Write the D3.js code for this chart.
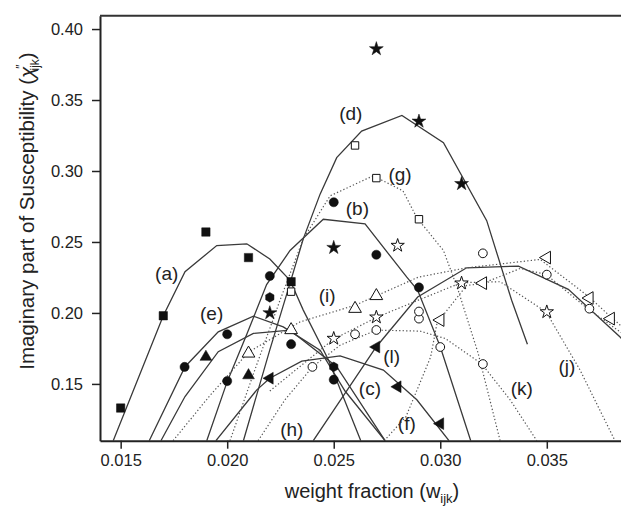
<!DOCTYPE html>
<html>
<head>
<meta charset="utf-8">
<script src="https://cdn.jsdelivr.net/npm/d3@7"></script>
<style>
  body { margin: 0; background: #fff; }
  text { font-family: "Liberation Sans", Arial, sans-serif; fill: #222; }
</style>
</head>
<body>
<div id="chart"></div>
<script>
// axis ticks
var xTicks = [0.015, 0.020, 0.025, 0.030, 0.035];
var yTicks = [0.15, 0.20, 0.25, 0.30, 0.35, 0.40];

// fitted curves (weight fraction, chi'')
var curveA = [[0.01465, 0.110], [0.0170, 0.198], [0.01802, 0.229], [0.01951, 0.2475], [0.02092, 0.2487], [0.0220, 0.238], [0.02295, 0.223], [0.02357, 0.202], [0.02475, 0.167], [0.02627, 0.110]];
var curveB = [[0.01904, 0.110], [0.0200, 0.1516], [0.02092, 0.185], [0.02185, 0.220], [0.02295, 0.244], [0.02451, 0.266], [0.02647, 0.2627], [0.02843, 0.2252], [0.02894, 0.216], [0.0300, 0.1762], [0.03143, 0.110]];
var curveC = [[0.01689, 0.110], [0.01802, 0.1411], [0.01958, 0.1727], [0.02123, 0.1856], [0.02295, 0.1879], [0.02514, 0.1621], [0.02741, 0.110]];
var curveD = [[0.02076, 0.110], [0.0220, 0.174], [0.02295, 0.221], [0.02357, 0.2522], [0.02436, 0.2837], [0.02514, 0.3094], [0.02631, 0.3281], [0.0282, 0.3391], [0.03015, 0.3199], [0.03218, 0.265], [0.03335, 0.2089], [0.03409, 0.178]];
var curveE = [[0.01634, 0.110], [0.01802, 0.1621], [0.01958, 0.1867], [0.02123, 0.1977], [0.02263, 0.1902], [0.02436, 0.1738], [0.02553, 0.145], [0.02741, 0.110]];
var curveF = [[0.01947, 0.110], [0.02139, 0.1458], [0.0220, 0.154], [0.0235, 0.1661], [0.0253, 0.1698], [0.02733, 0.1598], [0.0289, 0.1388], [0.03041, 0.110]];
var curveL = [[0.02404, 0.110], [0.0270, 0.1762], [0.02894, 0.2112], [0.03124, 0.2318], [0.03367, 0.233], [0.03601, 0.2166], [0.03844, 0.183], [0.0392, 0.170]];
var curveG = [[0.02013, 0.110], [0.02130, 0.160], [0.02248, 0.209], [0.02357, 0.2522], [0.02483, 0.2825], [0.02685, 0.2966], [0.02825, 0.286], [0.0289, 0.2671], [0.03015, 0.244], [0.03084, 0.216], [0.03177, 0.172], [0.03281, 0.110]];
var curveH = [[0.02145, 0.110], [0.02272, 0.139], [0.0240, 0.1619], [0.0253, 0.1773], [0.0270, 0.1879], [0.02905, 0.1872], [0.03023, 0.182], [0.03195, 0.164], [0.03328, 0.1388], [0.03453, 0.110]];
var curveI = [[0.01746, 0.110], [0.0192, 0.142], [0.0210, 0.1724], [0.02342, 0.1937], [0.0260, 0.2054], [0.02897, 0.2252], [0.03124, 0.2318], [0.03469, 0.2377], [0.03695, 0.2117], [0.03797, 0.1977], [0.0387, 0.188]];
var curveJ = [[0.0220, 0.145], [0.0250, 0.1816], [0.0270, 0.1968], [0.02897, 0.209], [0.03098, 0.2213], [0.03281, 0.222], [0.03497, 0.2007], [0.03656, 0.1598], [0.0382, 0.110]];
var curveK = [[0.02737, 0.110], [0.02839, 0.1269], [0.02955, 0.169], [0.02985, 0.193], [0.03124, 0.2194], [0.03195, 0.2206], [0.03375, 0.2313], [0.03497, 0.2271], [0.03695, 0.2026], [0.0387, 0.184]];

// measured points, grouped by symbol
var filledSquares = [[0.015, 0.133], [0.017, 0.198], [0.019, 0.257], [0.021, 0.239], [0.023, 0.222]];
var filledCircles = [[0.018, 0.162], [0.020, 0.185], [0.020, 0.152], [0.022, 0.226], [0.023, 0.178], [0.025, 0.278], [0.025, 0.153], [0.027, 0.241], [0.029, 0.218]];
var filledHexagons = [[0.022, 0.211], [0.025, 0.162]];
var filledStars = [[0.022, 0.200], [0.025, 0.246], [0.027, 0.386], [0.029, 0.335], [0.031, 0.291]];
var filledTriangles = [[0.019, 0.169], [0.021, 0.156]];
var filledTriLeft = [[0.022, 0.154], [0.027, 0.176], [0.028, 0.148], [0.030, 0.122]];
var openSquares = [[0.023, 0.215], [0.026, 0.318], [0.027, 0.295], [0.029, 0.266]];
var openCircles = [[0.024, 0.162], [0.026, 0.185], [0.027, 0.188], [0.029, 0.196], [0.029, 0.201], [0.030, 0.176], [0.032, 0.242], [0.032, 0.164], [0.035, 0.227], [0.037, 0.203]];
var openTriangles = [[0.021, 0.1715], [0.023, 0.188], [0.026, 0.203], [0.027, 0.212]];
var openStars = [[0.025, 0.182], [0.027, 0.197], [0.028, 0.2475], [0.031, 0.221], [0.035, 0.2007]];
var openTriLeft = [[0.030, 0.195], [0.032, 0.221], [0.035, 0.239], [0.037, 0.2105], [0.038, 0.196]];

// curve labels
var labelNames = ["(a)", "(b)", "(c)", "(d)", "(e)", "(f)", "(g)", "(h)", "(i)", "(j)", "(k)", "(l)"];
var labelPos = [[0.01716, 0.2281], [0.02611, 0.2739], [0.0267, 0.147], [0.0258, 0.3403], [0.01927, 0.1996], [0.02843, 0.1224], [0.02811, 0.2978], [0.02303, 0.1177], [0.02469, 0.2124], [0.03594, 0.1621], [0.03383, 0.147], [0.02772, 0.1691]];

(function() {

  // chart dimensions
  var width = 621, height = 508;
  var plotLeft = 100, plotRight = 623.5, plotTop = 15.7, plotBottom = 440.7;

  var x = d3.scaleLinear().domain([0.01403, 0.0386]).range([plotLeft, plotRight]);
  var y = d3.scaleLinear().domain([0.110, 0.4094]).range([plotBottom, plotTop]);

  var svg = d3.select("#chart")
    .append("svg")
      .attr("width", width)
      .attr("height", height);

  svg.append("clipPath")
      .attr("id", "plot-clip")
    .append("rect")
      .attr("x", plotLeft)
      .attr("y", plotTop)
      .attr("width", plotRight - plotLeft + 10)
      .attr("height", plotBottom - plotTop);

  var plot = svg.append("g").attr("clip-path", "url(#plot-clip)");

  var line = d3.line()
    .x(function(d) { return x(d[0]); })
    .y(function(d) { return y(d[1]); });

  // solid fits and dotted fits
  var solidCurves = [curveA, curveB, curveC, curveD, curveE, curveF, curveL];
  var dottedCurves = [curveG, curveH, curveI, curveJ, curveK];

  plot.selectAll(".solid")
    .data(solidCurves)
    .enter().append("path")
      .attr("class", "solid")
      .attr("d", line)
      .style("fill", "none")
      .style("stroke", "#3a3a3a")
      .style("stroke-width", 1.3);

  plot.selectAll(".dotted")
    .data(dottedCurves)
    .enter().append("path")
      .attr("class", "dotted")
      .attr("d", line)
      .style("fill", "none")
      .style("stroke", "#555")
      .style("stroke-width", 1.2)
      .style("stroke-dasharray", "1.3,2.2");

  // hexagon symbol
  var symbolHexagon = {
    draw: function(context, size) {
      var r = Math.sqrt(size / (1.5 * Math.sqrt(3)));
      for (var i = 0; i < 6; i++) {
        var a = Math.PI / 6 + i * Math.PI / 3;
        if (i === 0) context.moveTo(r * Math.cos(a), r * Math.sin(a));
        else context.lineTo(r * Math.cos(a), r * Math.sin(a));
      }
      context.closePath();
    }
  };

  var markerSets = [
    { data: filledSquares, type: d3.symbolSquare, size: 70, fill: true, rot: 0 },
    { data: filledCircles, type: d3.symbolCircle, size: 66, fill: true, rot: 0 },
    { data: filledHexagons, type: symbolHexagon, size: 60, fill: true, rot: 0 },
    { data: filledStars, type: d3.symbolStar, size: 60, fill: true, rot: 0 },
    { data: filledTriangles, type: d3.symbolTriangle, size: 60, fill: true, rot: 0 },
    { data: filledTriLeft, type: d3.symbolTriangle, size: 60, fill: true, rot: -90 },
    { data: openSquares, type: d3.symbolSquare, size: 55, fill: false, rot: 0 },
    { data: openCircles, type: d3.symbolCircle, size: 60, fill: false, rot: 0 },
    { data: openTriangles, type: d3.symbolTriangle, size: 70, fill: false, rot: 0 },
    { data: openStars, type: d3.symbolStar, size: 55, fill: false, rot: 0 },
    { data: openTriLeft, type: d3.symbolTriangle, size: 70, fill: false, rot: -90 }
  ];

  markerSets.forEach(function(set) {
    plot.append("g").selectAll("path")
      .data(set.data)
      .enter().append("path")
        .attr("d", d3.symbol().type(set.type).size(set.size))
        .attr("transform", function(d) {
          return "translate(" + x(d[0]) + "," + y(d[1]) + ") rotate(" + set.rot + ")";
        })
        .style("fill", set.fill ? "#111" : "#fff")
        .style("stroke", "#111")
        .style("stroke-width", set.fill ? 0.5 : 1);
  });

  // curve labels
  plot.selectAll(".clabel")
    .data(labelNames)
    .enter().append("text")
      .attr("class", "clabel")
      .attr("x", function(d, i) { return x(labelPos[i][0]); })
      .attr("y", function(d, i) { return y(labelPos[i][1]); })
      .attr("dy", "0.35em")
      .attr("text-anchor", "middle")
      .style("font-size", "19px")
      .text(function(d) { return d; });

  // axes
  var xAxis = d3.axisBottom(x).tickValues(xTicks).tickFormat(d3.format(".3f")).tickSize(8).tickSizeOuter(0);
  var yAxis = d3.axisLeft(y).tickValues(yTicks).tickFormat(d3.format(".2f")).tickSize(8).tickSizeOuter(0);

  var gx = svg.append("g")
    .attr("transform", "translate(0," + plotBottom + ")")
    .call(xAxis);
  var gy = svg.append("g")
    .attr("transform", "translate(" + plotLeft + ",0)")
    .call(yAxis);

  [gx, gy].forEach(function(g) {
    g.select(".domain").style("stroke", "#222").style("stroke-width", 2);
    g.selectAll(".tick line").style("stroke", "#222").style("stroke-width", 1.5);
    g.selectAll(".tick text")
      .style("font-size", "16.5px")
      .style("font-family", "'Liberation Sans', Arial, sans-serif")
      .style("fill", "#222");
  });
  gx.selectAll(".tick text").attr("y", 14).attr("dy", "0.71em");
  gy.selectAll(".tick text").attr("x", -17);

  // top frame
  svg.append("line")
    .attr("x1", plotLeft)
    .attr("x2", width)
    .attr("y1", plotTop)
    .attr("y2", plotTop)
    .style("stroke", "#333")
    .style("stroke-width", 2);

  // axis titles
  var xt = svg.append("text")
    .attr("x", 372)
    .attr("y", 498)
    .attr("text-anchor", "middle")
    .style("font-size", "20px");
  xt.append("tspan").text("weight fraction (w");
  xt.append("tspan").attr("dy", 5).style("font-size", "13px").text("ijk");
  xt.append("tspan").attr("dy", -5).text(")");

  var yt = svg.append("text")
    .attr("transform", "translate(34,211) rotate(-90)")
    .attr("text-anchor", "middle")
    .style("font-size", "20.5px");
  yt.append("tspan").text("Imaginary part of Susceptibility (");
  yt.append("tspan").style("font-style", "italic").text("\u03c7");
  yt.append("tspan").attr("dy", -9).attr("dx", -2).style("font-size", "12px").text("\u2033");
  yt.append("tspan").attr("dy", 14).attr("dx", -6).style("font-size", "12px").text("ijk");
  yt.append("tspan").attr("dy", -5).text(")");

})();
</script>
</body>
</html>
